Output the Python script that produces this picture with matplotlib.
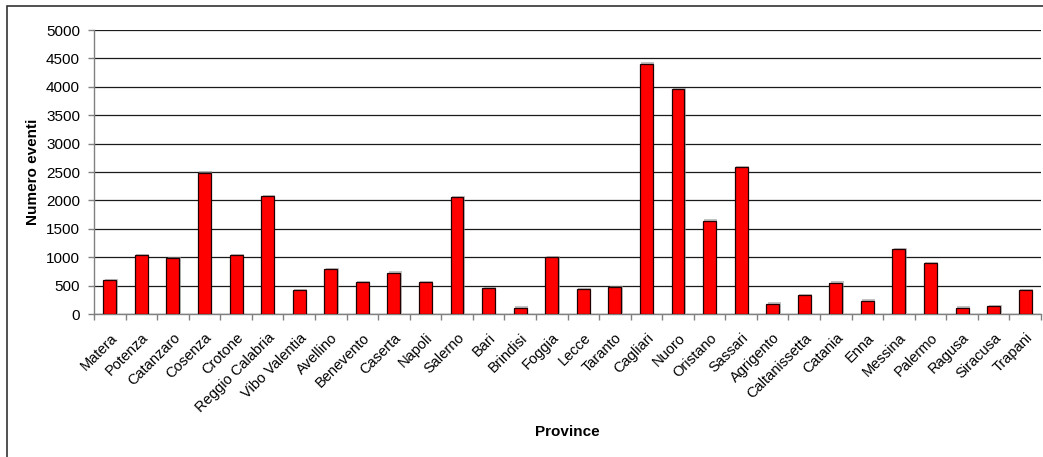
import matplotlib
matplotlib.use("Agg")
import matplotlib.pyplot as plt
import matplotlib.patheffects as pe
from matplotlib.patches import Rectangle
import numpy as np

plt.rcParams['font.family'] = ['Liberation Sans', 'DejaVu Sans']

province = ["Matera", "Potenza", "Catanzaro", "Cosenza", "Crotone", "Reggio Calabria",
            "Vibo Valentia", "Avellino", "Benevento", "Caserta", "Napoli", "Salerno",
            "Bari", "Brindisi", "Foggia", "Lecce", "Taranto", "Cagliari", "Nuoro",
            "Oristano", "Sassari", "Agrigento", "Caltanissetta", "Catania", "Enna",
            "Messina", "Palermo", "Ragusa", "Siracusa", "Trapani"]
eventi = [595, 1035, 985, 2490, 1035, 2075, 420, 790, 565, 730, 565, 2055,
          455, 112, 1000, 435, 475, 4405, 3955, 1640, 2585, 182, 330, 552, 235,
          1145, 893, 112, 135, 420]
y_ticks = list(range(0, 5001, 500))

fig = plt.figure(figsize=(10.43, 4.57), dpi=100)
ax = fig.add_axes([94 / 1043, 1 - 314 / 457, (1041 - 94) / 1043, (314 - 30) / 457])

x = np.arange(len(province))
bars = ax.bar(x, eventi, width=0.41, color="#FF0000", edgecolor="#200000",
              linewidth=0.9, zorder=3)
for b in bars:
    b.set_path_effects([pe.SimplePatchShadow(offset=(1, 1), shadow_rgbFace="#9a9a9a", alpha=0.6),
                        pe.Normal()])

ax.set_xlim(-0.5, len(province) - 0.5)
ax.set_ylim(0, 5000)
ax.set_yticks(y_ticks)
ax.set_yticklabels([str(v) for v in y_ticks], fontsize=11)
ax.yaxis.grid(True, color="#1a1a1a", linewidth=0.9, zorder=0)

# category labels centred on bars, ticks between categories
ax.set_xticks(x)
ax.set_xticklabels(province, rotation=45, ha="right", rotation_mode="anchor", fontsize=10.5)
ax.tick_params(axis="x", length=0, pad=12)
ax.set_xticks(np.arange(-0.5, len(province)), minor=True)
ax.tick_params(axis="x", which="minor", length=4, color="#808080", width=1)
ax.tick_params(axis="y", length=4, color="#808080", width=1, pad=6)

for side in ["top", "right"]:
    ax.spines[side].set_visible(False)
for side in ["left", "bottom"]:
    ax.spines[side].set_color("#808080")
    ax.spines[side].set_linewidth(1)

fig.text(33 / 1043, 1 - 172 / 457, "Numero eventi", rotation=90, ha="center", va="center",
         fontsize=11, fontweight="bold")
fig.text(567 / 1043, 1 - 432 / 457, "Province", ha="center", va="center",
         fontsize=11, fontweight="bold")

# outer chart frame
fig.patches.append(Rectangle((6.5 / 1043, -0.05), 1.2, 1 - 5.5 / 457 + 0.05,
                             transform=fig.transFigure, fill=False,
                             edgecolor="#333333", linewidth=1.2))

fig.savefig("out.png", dpi=100)
